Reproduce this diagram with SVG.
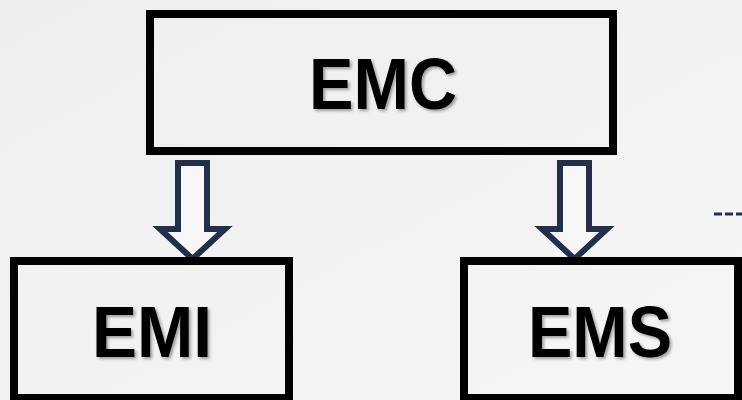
<svg xmlns="http://www.w3.org/2000/svg" width="742" height="400" viewBox="0 0 742 400">
<defs>
<linearGradient id="bg" x1="0" y1="0" x2="1" y2="1">
<stop offset="0" stop-color="#eeeeee"/>
<stop offset="1" stop-color="#f6f6f6"/>
</linearGradient>
<filter id="sh" x="-20%" y="-20%" width="140%" height="140%">
<feDropShadow dx="2" dy="2" stdDeviation="1.5" flood-color="#000" flood-opacity="0.35"/>
</filter>
<style>
.box{fill:none;stroke:#000;stroke-width:8}
.lbl{font-family:"Liberation Sans",Arial,sans-serif;font-weight:bold;font-size:72px;fill:#000;text-anchor:middle;filter:url(#sh)}
.arr{fill:#f7f7f7;stroke:#222f4a;stroke-width:6;stroke-linejoin:miter}
.dash{stroke:#222f4a;stroke-width:3;stroke-dasharray:8 3;fill:none}
</style>
</defs>
<rect width="742" height="400" fill="url(#bg)"/>
<g id="connectors">
<path class="arr" d="M178,163 L207,163 L207,229 L225,229 L192.5,259 L160,229 L178,229 Z"/>
<path class="arr" d="M560,163 L589,163 L589,229 L607,229 L574.5,259 L542,229 L560,229 Z"/>
<line class="dash" x1="714" y1="214" x2="742" y2="214"/>
</g>
<g id="emc">
<rect class="box" x="150" y="14" width="463" height="137"/>
<text class="lbl" x="383" y="109" textLength="148" lengthAdjust="spacingAndGlyphs">EMC</text>
</g>
<g id="emi">
<rect class="box" x="14" y="261" width="275" height="137"/>
<text class="lbl" x="152" y="357" textLength="120" lengthAdjust="spacingAndGlyphs">EMI</text>
</g>
<g id="ems">
<rect class="box" x="464" y="261" width="274" height="137"/>
<text class="lbl" x="600" y="357" textLength="144" lengthAdjust="spacingAndGlyphs">EMS</text>
</g>
</svg>
